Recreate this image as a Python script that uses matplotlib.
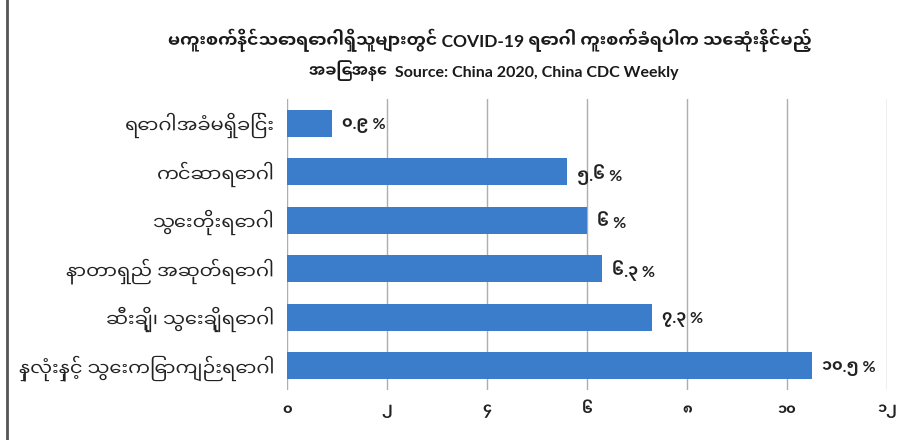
import matplotlib
matplotlib.use("Agg")
import matplotlib.pyplot as plt
import numpy as np

# fonts: Latin first, Myanmar glyphs fall back to Noto Sans Myanmar UI
plt.rcParams['font.family'] = ['Lato', 'Noto Sans Myanmar UI', 'DejaVu Sans']

categories = ['ရောဂါအခံမရှိခြင်း', 'ကင်ဆာရောဂါ', 'သွေးတိုးရောဂါ',
              'နာတာရှည် အဆုတ်ရောဂါ', 'ဆီးချို၊ သွေးချိုရောဂါ',
              'နှလုံးနှင့် သွေးကြောကျဉ်းရောဂါ']
values = [0.9, 5.6, 6, 6.3, 7.3, 10.5]
value_labels = ['၀.၉ %', '၅.၆ %', '၆ %', '၆.၃ %', '၇.၃ %', '၁၀.၅ %']
xticks = [0, 2, 4, 6, 8, 10, 12]
xtick_labels = ['၀', '၂', '၄', '၆', '၈', '၁၀', '၁၂']

title1 = 'မကူးစက်နိုင်သောရောဂါရှိသူများတွင် COVID-19 ရောဂါ ကူးစက်ခံရပါက သေဆုံးနိုင်မည့်'
title2 = 'အခြေအနေ  Source: China 2020, China CDC Weekly'

fig = plt.figure(figsize=(9.19, 4.4), dpi=100)
ax = fig.add_axes([0.3123, 0.114, 0.653, 0.661])

y = np.arange(len(categories))
ax.barh(y, values, height=0.56, color='#3b7dcb', zorder=3)
ax.set_ylim(len(categories) - 0.5, -0.5)
ax.set_xlim(0, 12)

for yi, v, lab in zip(y, values, value_labels):
    ax.text(v + 0.2, yi + 0.05, lab, va='center', ha='left', fontsize=11.5,
            fontweight='bold', color='#222222')

ax.set_yticks(y)
ax.set_yticklabels(categories, fontsize=14, color='#222222')
ax.set_xticks(xticks)
ax.set_xticklabels(xtick_labels, fontsize=10.5, fontweight='bold', color='#222222')
ax.tick_params(axis='both', length=0)
ax.tick_params(axis='x', pad=10)
ax.tick_params(axis='y', pad=9)

ax.grid(axis='x', color='#b5aca5', linewidth=1, zorder=0)
for s in ax.spines.values():
    s.set_visible(False)

fig.text(0.533, 0.908, title1, ha='center', va='center', fontsize=12.5, fontweight='bold',
         color='#1a1a1a')
fig.text(0.537, 0.84, title2, ha='center', va='center', fontsize=11.5, fontweight='bold',
         color='#1a1a1a')

# left border line of the original image
fig.add_artist(plt.Line2D([0.008, 0.008], [0, 1], color='#555555', linewidth=2))

fig.savefig('out.png', dpi=100)
